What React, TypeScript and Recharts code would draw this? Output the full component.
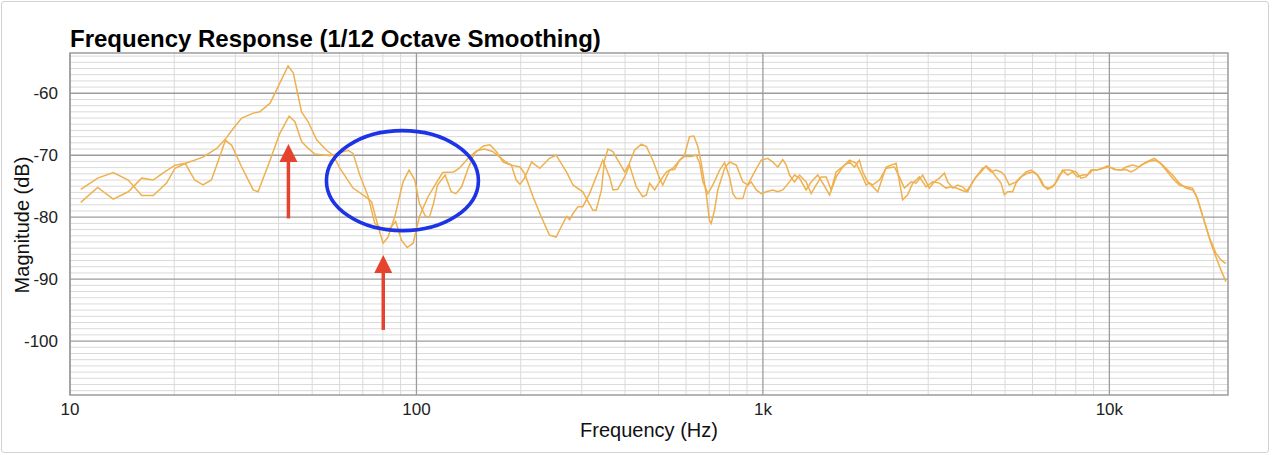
import React from 'react';
import { LineChart, Line, XAxis, YAxis, CartesianGrid, ReferenceDot, ReferenceLine, ReferenceArea } from 'recharts';

// Series A (upper peak near 43 Hz)
const freqA = [10.74, 12.02, 13.33, 14.73, 16.1, 17.39, 19.0, 20.09, 21.6, 24.2, 26.5, 28.1, 29.4, 31.3, 33.8, 35.3, 37.8, 40.3, 42.6, 44.1, 46.6, 48.7, 51.5, 55.0, 57.5, 60.1, 65.6, 71.7, 74.2, 77.5, 80.1, 82.8, 86.6, 91.5, 95.2, 98.9, 102, 106, 109, 112, 115, 121, 126, 130, 135, 141, 147, 156, 163, 170, 178, 188, 194, 199, 205, 215, 227, 242, 253, 271, 283, 302, 323, 330, 342, 349, 357, 369, 386, 399, 412, 426, 446, 461, 481, 503, 514, 538, 556, 575, 594, 614, 632, 649, 664, 686, 701, 709, 725, 741, 775, 801, 838, 875, 904, 946, 989, 1033, 1068, 1104, 1141, 1168, 1193, 1233, 1275, 1333, 1378, 1425, 1473, 1523, 1574, 1627, 1720, 1778, 1837, 1899, 1941, 2007, 2075, 2169, 2268, 2397, 2477, 2561, 2678, 2768, 2892, 3023, 3126, 3232, 3341, 3415, 3530, 3649, 3772, 3900, 4031, 4168, 4308, 4406, 4555, 4709, 4867, 4976, 5144, 5378, 5559, 5748, 5941, 6142, 6349, 6489, 6709, 6935, 7169, 7411, 7662, 8010, 8280, 8559, 8851, 9149, 9560, 9993, 10447, 10801, 11166, 11666, 12197, 12752, 13476, 13931, 14565, 15219, 15911, 16635, 17378, 17965, 18571, 19414, 20296, 20985, 21694];
const magA = [-75.5, -73.7, -72.8, -74.0, -76.5, -76.5, -74.5, -72.1, -71.3, -70.3, -68.9, -67.4, -65.9, -64.0, -63.2, -63.0, -61.6, -58.4, -55.6, -56.7, -63.0, -64.6, -67.5, -69.2, -70.0, -72.1, -75.3, -76.8, -77.5, -81.5, -84.2, -83.2, -79.9, -74.3, -72.4, -74.0, -77.8, -79.8, -80.0, -77.8, -74.8, -73.2, -75.9, -76.2, -75.1, -72.1, -69.7, -68.5, -68.3, -69.4, -71.1, -71.6, -74.0, -74.7, -73.7, -71.1, -72.1, -70.5, -70.0, -72.7, -74.8, -75.9, -78.9, -78.9, -75.6, -70.8, -69.0, -69.4, -71.3, -72.7, -71.3, -69.2, -68.2, -68.6, -70.8, -73.7, -74.8, -72.4, -72.3, -70.8, -70.0, -67.0, -66.9, -68.6, -71.3, -76.2, -80.5, -81.0, -78.9, -75.6, -72.1, -71.1, -71.6, -74.3, -74.8, -72.7, -70.8, -70.5, -71.1, -71.9, -70.7, -71.6, -73.2, -74.3, -73.2, -74.3, -76.2, -74.8, -73.5, -73.5, -75.6, -72.7, -71.6, -71.1, -71.9, -70.8, -72.7, -74.3, -74.8, -74.0, -72.1, -71.9, -73.5, -75.3, -74.3, -74.5, -73.2, -75.3, -74.3, -73.7, -72.9, -74.3, -75.3, -74.8, -75.1, -75.9, -74.3, -73.2, -72.1, -71.9, -72.7, -72.4, -72.7, -73.2, -74.8, -74.3, -73.5, -72.7, -72.4, -72.9, -74.0, -75.1, -75.3, -74.8, -73.2, -72.4, -72.4, -72.7, -73.7, -73.5, -72.4, -72.4, -72.1, -71.9, -72.3, -72.4, -71.9, -71.6, -71.9, -71.1, -70.5, -71.1, -72.4, -73.7, -74.8, -75.1, -75.3, -77.0, -79.7, -83.2, -85.8, -86.9, -87.5];

// Series B (lower peak near 43 Hz)
const freqB = [10.74, 12.02, 13.33, 14.73, 16.1, 17.39, 18.4, 20.09, 21.5, 22.9, 24.2, 25.6, 28.1, 29.3, 31.3, 33.8, 34.9, 37.8, 40.3, 42.9, 44.6, 46.6, 48.7, 50.9, 56.2, 60.1, 63.5, 65.6, 68.6, 72.5, 75.8, 79.3, 83.8, 87.1, 90.5, 94.0, 97.8, 102, 108, 114, 119, 128, 133, 141, 149, 157, 166, 180, 188, 199, 205, 217, 229, 242, 253, 262, 271, 277, 283, 292.5, 302, 316, 330, 345, 361, 369, 381, 399, 412, 431, 450, 461, 471, 487, 503, 526, 550, 575, 594, 621, 642, 657, 671, 694, 717, 750, 775, 801, 819, 838, 875, 895, 925, 957, 989, 1022, 1068, 1104, 1141, 1193, 1233, 1275, 1333, 1378, 1440, 1489, 1557, 1627, 1700, 1778, 1858, 1941, 1986, 2030, 2145, 2268, 2424, 2532, 2618, 2706, 2829, 2958, 3090, 3232, 3378, 3492, 3611, 3733, 3858, 3988, 4122, 4261, 4406, 4555, 4709, 4867, 4976, 5086, 5258, 5378, 5559, 5809, 6005, 6207, 6416, 6634, 6858, 7089, 7328, 7577, 7833, 8097, 8370, 8652, 8945, 9247, 9560, 9881, 10330, 10801, 11166, 11542, 11932, 12335, 12891, 13476, 14086, 14565, 15219, 15911, 16635, 17378, 17771, 18372, 18990, 19634, 20296, 20985, 21694];
const magB = [-77.6, -75.2, -77.1, -75.9, -73.7, -74.0, -73.0, -71.6, -71.3, -74.0, -74.8, -74.0, -67.6, -68.4, -71.9, -75.6, -75.9, -70.8, -66.5, -63.7, -64.6, -67.8, -68.9, -69.8, -70.1, -69.6, -69.2, -69.7, -73.2, -76.6, -81.0, -81.8, -81.8, -80.7, -83.7, -84.9, -84.2, -79.9, -76.7, -74.5, -72.8, -72.7, -72.1, -70.5, -69.3, -69.0, -69.4, -71.0, -71.6, -71.9, -72.9, -76.7, -79.9, -82.9, -83.2, -81.5, -79.9, -80.4, -79.4, -78.3, -78.3, -76.2, -73.5, -70.8, -73.5, -75.6, -75.5, -73.5, -71.6, -75.1, -76.7, -76.4, -74.5, -75.6, -74.3, -72.7, -72.1, -70.8, -70.2, -70.2, -70.0, -71.3, -74.3, -76.2, -74.8, -72.4, -71.2, -73.5, -76.2, -77.0, -77.0, -75.1, -74.3, -75.6, -76.2, -75.9, -75.6, -75.9, -75.6, -74.3, -73.2, -73.7, -75.6, -74.3, -73.2, -74.5, -76.4, -73.5, -71.9, -70.8, -71.3, -73.5, -74.8, -74.5, -75.9, -71.9, -71.3, -77.2, -76.4, -74.5, -73.5, -75.1, -74.3, -74.5, -75.3, -75.1, -75.3, -75.6, -75.9, -74.8, -73.5, -72.7, -71.7, -72.4, -73.5, -74.5, -76.4, -75.9, -75.9, -74.5, -73.5, -72.9, -72.7, -73.2, -74.8, -75.5, -75.1, -74.0, -72.4, -73.2, -72.7, -73.5, -73.2, -73.2, -72.4, -72.4, -72.1, -71.7, -72.3, -72.4, -72.3, -72.7, -72.3, -71.6, -71.1, -70.8, -71.3, -72.1, -73.2, -74.5, -75.3, -75.6, -76.4, -78.9, -81.5, -84.2, -86.4, -88.5, -90.4];

const xTicks = [10, 100, 1000, 10000];
const xTickLabels = ['10', '100', '1k', '10k'];
const yTicks = [-100, -90, -80, -70, -60];
const xMinor = [20, 30, 40, 50, 60, 70, 80, 90, 200, 300, 400, 500, 600, 700, 800, 900, 2000, 3000, 4000, 5000, 6000, 7000, 8000, 9000, 20000];
const yMinor = [-108, -107, -106, -105, -104, -103, -102, -101, -99, -98, -97, -96, -95, -94, -93, -92, -91, -89, -88, -87, -86, -85, -84, -83, -82, -81, -79, -78, -77, -76, -75, -74, -73, -72, -71, -69, -68, -67, -66, -65, -64, -63, -62, -61, -59, -58, -57, -56, -55, -54];

const xDomain = [10, 22000];
const yDomain = [-108.7, -53.5];

// annotations (data coordinates)
const ellipseAt = { f: 91.1, db: -74.1 };
const arrowsAt = [
  { f: 42.7, from: -80.2, to: -68.2 },
  { f: 80.2, from: -98.2, to: -86.1 },
];

const dataA = freqA.map((f, i) => ({ f, db: magA[i] }));
const dataB = freqB.map((f, i) => ({ f, db: magB[i] }));

const FONT = '"Liberation Sans", Arial, Helvetica, sans-serif';
const LINE = '#efb04e';
const RED = '#e5432d';

const ArrowShape = (p: any) => {
  const x = p.x1;
  const top = Math.min(p.y1, p.y2);
  const bottom = Math.max(p.y1, p.y2);
  const headH = 18;
  const headW = 9;
  return (
    <g>
      <line x1={x} y1={bottom} x2={x} y2={top + headH - 1} stroke={RED} strokeWidth={3.5} />
      <polygon points={`${x},${top} ${x - headW},${top + headH} ${x + headW},${top + headH}`} fill={RED} />
    </g>
  );
};

const EllipseShape = (p: any) => (
  <ellipse cx={p.cx} cy={p.cy} rx={76} ry={50} fill="none" stroke="#1c33e6" strokeWidth={3.6} />
);

export default function App() {
  return (
    <div style={{ position: 'absolute', left: 0, top: 0, width: 1280, height: 455, background: '#fff', fontFamily: FONT }}>
      <div style={{ position: 'absolute', left: 1, top: 1, width: 1266, height: 450, border: '1px solid #d2d2d2', borderRadius: 3 }} />
      <div style={{ position: 'absolute', left: 0, top: 0 }}>
        <LineChart width={1280} height={455} margin={{ top: 53, right: 52, bottom: 30, left: 0 }}>
          <CartesianGrid horizontalValues={yMinor} verticalValues={xMinor} stroke="#dadada" strokeWidth={1} />
          <CartesianGrid horizontalValues={yTicks} verticalValues={xTicks} stroke="#9c9c9c" strokeWidth={1.3} />
          <XAxis
            type="number"
            dataKey="f"
            scale="log"
            domain={xDomain}
            allowDataOverflow
            ticks={xTicks}
            interval={0}
            tickFormatter={(v: number) => xTickLabels[xTicks.indexOf(v)] ?? String(v)}
            axisLine={false}
            tickLine={false}
            tickSize={0}
            tickMargin={8}
            height={30}
            tick={{ fontSize: 17, fill: '#222', fontFamily: FONT }}
          />
          <YAxis
            type="number"
            dataKey="db"
            domain={yDomain}
            allowDataOverflow
            ticks={yTicks}
            interval={0}
            axisLine={false}
            tickLine={false}
            tickSize={0}
            tickMargin={12}
            width={70}
            tick={{ fontSize: 17, fill: '#222', fontFamily: FONT }}
          />
          <ReferenceArea x1={xDomain[0]} x2={xDomain[1]} y1={yDomain[0]} y2={yDomain[1]} fill="none" stroke="#9c9c9c" strokeWidth={1.5} ifOverflow="visible" />
          <Line data={dataA} dataKey="db" type="linear" stroke={LINE} strokeWidth={1.5} dot={false} isAnimationActive={false} />
          <Line data={dataB} dataKey="db" type="linear" stroke={LINE} strokeWidth={1.5} dot={false} isAnimationActive={false} />
          <ReferenceDot x={ellipseAt.f} y={ellipseAt.db} shape={EllipseShape} ifOverflow="visible" />
          {arrowsAt.map((a, i) => (
            <ReferenceLine
              key={i}
              segment={[{ x: a.f, y: a.from }, { x: a.f, y: a.to }]}
              shape={ArrowShape}
              ifOverflow="visible"
            />
          ))}
        </LineChart>
      </div>
      <svg width={1280} height={455} style={{ position: 'absolute', left: 0, top: 0, pointerEvents: 'none' }}>
        <text x={70} y={47} fontSize={24} fontWeight="bold" fill="#000" fontFamily={FONT}>
          Frequency Response (1/12 Octave Smoothing)
        </text>
        <text x={649} y={437} fontSize={20} fill="#111" textAnchor="middle" fontFamily={FONT}>
          Frequency (Hz)
        </text>
        <text x={28.5} y={225} fontSize={20} fill="#111" textAnchor="middle" fontFamily={FONT} transform="rotate(-90 28.5 225)">
          Magnitude (dB)
        </text>
      </svg>
    </div>
  );
}
